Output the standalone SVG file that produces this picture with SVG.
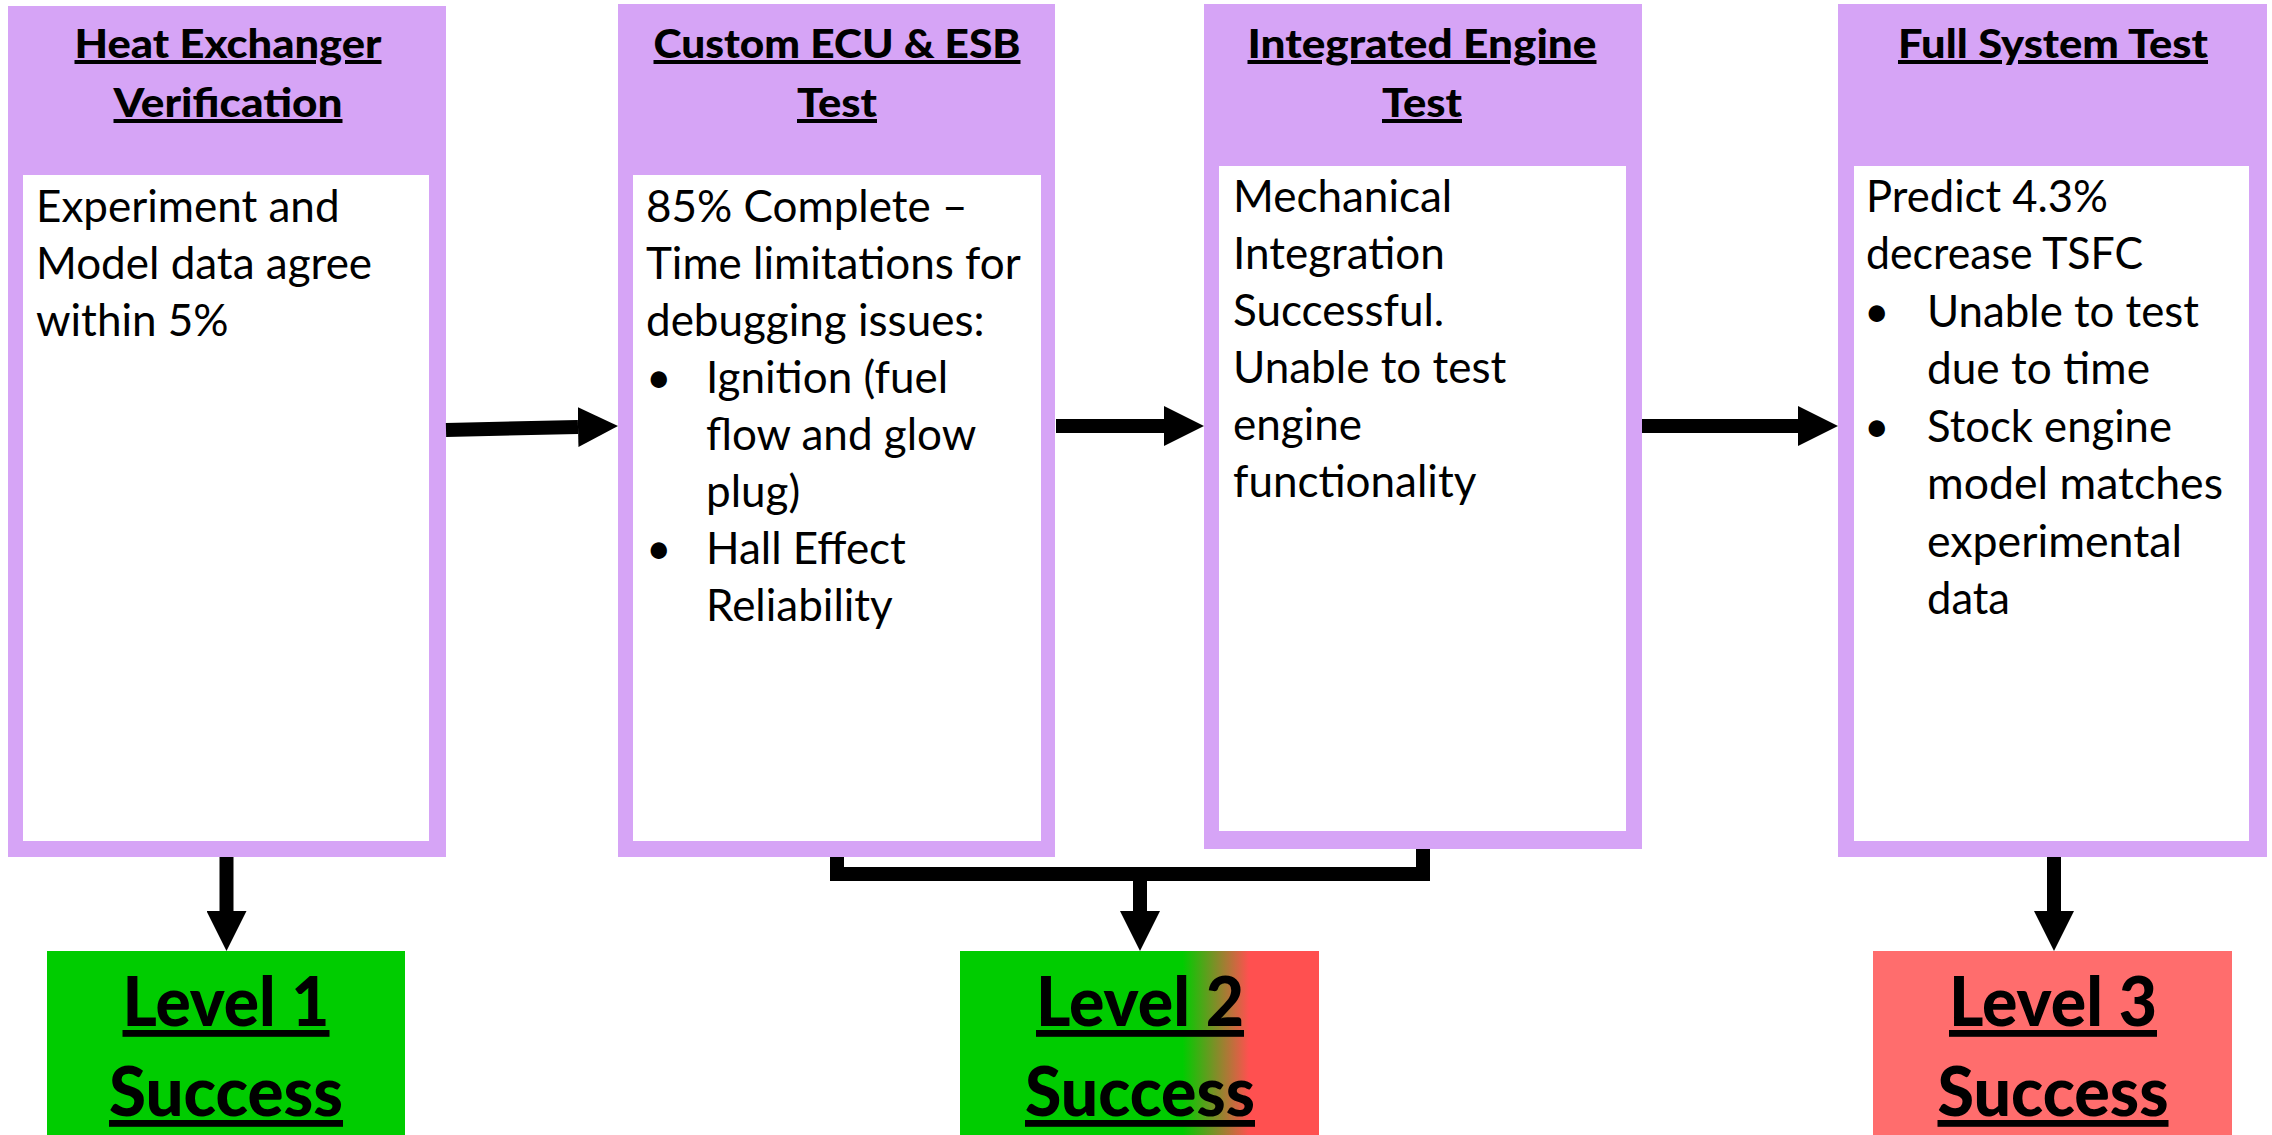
<svg xmlns="http://www.w3.org/2000/svg" width="2272" height="1135" viewBox="0 0 2272 1135">
<defs>
<style>
.outer{fill:#D6A4F6}
.inner{fill:#FFFFFF}
.title{font-family:Lato,"Liberation Sans",sans-serif;font-weight:900;font-size:40px;fill:#000;text-anchor:middle;text-decoration:underline}
.body{font-family:Lato,"Liberation Sans",sans-serif;font-size:44px;fill:#000}
.level{font-family:Lato,"Liberation Sans",sans-serif;font-weight:900;font-size:68px;fill:#000;text-anchor:middle;text-decoration:underline}
.conn{fill:none;stroke:#000;stroke-width:14;stroke-linejoin:miter}
</style>
<marker id="ah" markerUnits="userSpaceOnUse" markerWidth="40" markerHeight="40" viewBox="0 0 40 40" refX="0" refY="20" orient="auto">
<path d="M0,0 L40,20 L0,40 Z" fill="#000"/>
</marker>
<linearGradient id="g2" x1="0" y1="0" x2="1" y2="0">
<stop offset="0" stop-color="#00CC00"/>
<stop offset="0.62" stop-color="#00CC00"/>
<stop offset="0.805" stop-color="#FF5050"/>
<stop offset="1" stop-color="#FF5050"/>
</linearGradient>
</defs>
<rect width="2272" height="1135" fill="#FFFFFF"/>

<g id="box1">
<rect class="outer" x="8" y="6" width="438" height="851"/>
<rect class="inner" x="23" y="175" width="406" height="666"/>
<text class="title" x="228" y="58" textLength="307" lengthAdjust="spacingAndGlyphs">Heat Exchanger</text>
<text class="title" x="228" y="117" textLength="229" lengthAdjust="spacingAndGlyphs">Verification</text>
<text class="body" x="36" y="222">Experiment and</text>
<text class="body" x="36" y="279">Model data agree</text>
<text class="body" x="36" y="336">within 5%</text>
</g>

<g id="box2">
<rect class="outer" x="618" y="4" width="437" height="853"/>
<rect class="inner" x="633" y="175" width="408" height="666"/>
<text class="title" x="837" y="58" textLength="367" lengthAdjust="spacingAndGlyphs">Custom ECU &amp; ESB</text>
<text class="title" x="837" y="117" textLength="80" lengthAdjust="spacingAndGlyphs">Test</text>
<text class="body" x="646" y="222">85% Complete –</text>
<text class="body" x="646" y="279">Time limitations for</text>
<text class="body" x="646" y="336">debugging issues:</text>
<text class="body" x="646" y="393">•</text>
<text class="body" x="706" y="393">Ignition (fuel</text>
<text class="body" x="706" y="450">flow and glow</text>
<text class="body" x="706" y="507">plug)</text>
<text class="body" x="646" y="564">•</text>
<text class="body" x="706" y="564">Hall Effect</text>
<text class="body" x="706" y="621">Reliability</text>
</g>

<g id="box3">
<rect class="outer" x="1204" y="4" width="438" height="845"/>
<rect class="inner" x="1219" y="166" width="407" height="665"/>
<text class="title" x="1422" y="58" textLength="349" lengthAdjust="spacingAndGlyphs">Integrated Engine</text>
<text class="title" x="1422" y="117" textLength="80" lengthAdjust="spacingAndGlyphs">Test</text>
<text class="body" x="1233" y="212">Mechanical</text>
<text class="body" x="1233" y="269">Integration</text>
<text class="body" x="1233" y="326">Successful.</text>
<text class="body" x="1233" y="383">Unable to test</text>
<text class="body" x="1233" y="440">engine</text>
<text class="body" x="1233" y="497">functionality</text>
</g>

<g id="box4">
<rect class="outer" x="1838" y="4" width="429" height="853"/>
<rect class="inner" x="1854" y="166" width="395" height="675"/>
<text class="title" x="2053" y="58" textLength="310" lengthAdjust="spacingAndGlyphs">Full System Test</text>
<text class="body" x="1866" y="212" textLength="242" lengthAdjust="spacingAndGlyphs">Predict 4.3%</text>
<text class="body" x="1866" y="269" textLength="277" lengthAdjust="spacingAndGlyphs">decrease TSFC</text>
<text class="body" x="1864" y="327">•</text>
<text class="body" x="1927" y="327" textLength="272" lengthAdjust="spacingAndGlyphs">Unable to test</text>
<text class="body" x="1927" y="384" textLength="223" lengthAdjust="spacingAndGlyphs">due to time</text>
<text class="body" x="1864" y="442">•</text>
<text class="body" x="1927" y="442" textLength="245" lengthAdjust="spacingAndGlyphs">Stock engine</text>
<text class="body" x="1927" y="499" textLength="296" lengthAdjust="spacingAndGlyphs">model matches</text>
<text class="body" x="1927" y="557" textLength="255" lengthAdjust="spacingAndGlyphs">experimental</text>
<text class="body" x="1927" y="614" textLength="83" lengthAdjust="spacingAndGlyphs">data</text>
</g>

<g id="level1">
<rect x="47" y="951" width="358" height="184" fill="#00CC00"/>
<text class="level" x="226" y="1026" textLength="207" lengthAdjust="spacingAndGlyphs">Level 1</text>
<text class="level" x="226" y="1116" textLength="234" lengthAdjust="spacingAndGlyphs">Success</text>
</g>

<g id="level2">
<rect x="960" y="951" width="359" height="184" fill="url(#g2)"/>
<text class="level" x="1140" y="1026" textLength="208" lengthAdjust="spacingAndGlyphs">Level 2</text>
<text class="level" x="1140" y="1116" textLength="230" lengthAdjust="spacingAndGlyphs">Success</text>
</g>

<g id="level3">
<rect x="1873" y="951" width="359" height="184" fill="#FF6D6D"/>
<text class="level" x="2053" y="1026" textLength="208" lengthAdjust="spacingAndGlyphs">Level 3</text>
<text class="level" x="2053" y="1116" textLength="231" lengthAdjust="spacingAndGlyphs">Success</text>
</g>

<g id="connectors">
<path class="conn" d="M446,430 L578,427" marker-end="url(#ah)"/>
<path class="conn" d="M1056,426 L1164,426" marker-end="url(#ah)"/>
<path class="conn" d="M1642,426 L1798,426" marker-end="url(#ah)"/>
<path class="conn" d="M226.5,857 L226.5,911" marker-end="url(#ah)"/>
<path class="conn" d="M837,857 V874 H1423 V849"/>
<path class="conn" d="M1140,874 V911" marker-end="url(#ah)"/>
<path class="conn" d="M2054,857 V911" marker-end="url(#ah)"/>
</g>
</svg>
